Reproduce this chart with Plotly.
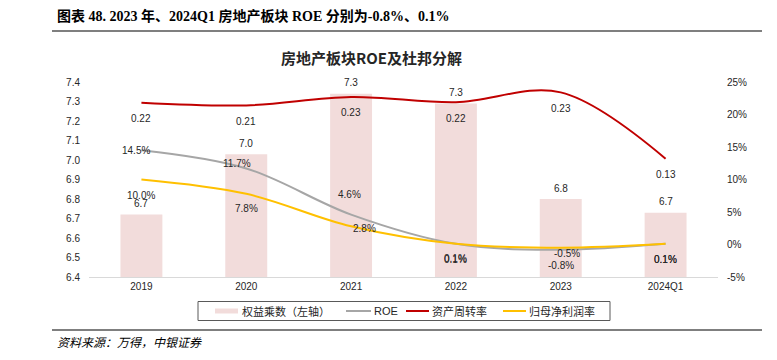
import plotly.graph_objects as go

# ---------------- data ----------------
categories = ["2019", "2020", "2021", "2022", "2023", "2024Q1"]
equity_multiplier = [6.72, 7.03, 7.34, 7.29, 6.80, 6.73]      # left axis
asset_turnover = [0.218, 0.214, 0.227, 0.219, 0.234, 0.132]    # shown on right axis (x100 %)
roe = [14.5, 11.7, 4.6, 0.1, -0.8, 0.1]                        # %
net_margin = [10.0, 7.8, 2.8, 0.1, -0.5, 0.1]                  # %

left_ticks = [6.4, 6.5, 6.6, 6.7, 6.8, 6.9, 7.0, 7.1, 7.2, 7.3, 7.4]
right_ticks = [-5, 0, 5, 10, 15, 20, 25]

# ---------------- style ----------------
W, H = 777, 360
L, R, T, B = 89, 59, 82, 83
PW, PH = W - L - R, H - T - B
C_BAR = "#F2DCDB"
C_ROE = "#A6A6A6"
C_TURN = "#C00000"
C_MARGIN = "#FFC000"
TXT = "#262626"
CJK = "Noto Sans CJK SC"
LBL = dict(family="Liberation Sans, " + CJK, size=10, color=TXT)

def px(x):
    return (x - L) / PW

def py(y):
    return (H - B - y) / PH

xs = list(range(len(categories)))

fig = go.Figure()
fig.add_trace(go.Bar(
    x=xs, y=equity_multiplier, name="权益乘数（左轴）",
    marker=dict(color=C_BAR, line=dict(width=0)), width=0.4,
    yaxis="y", showlegend=False, hoverinfo="skip",
))
turn_pct = [v * 100 for v in asset_turnover]
fig.add_trace(go.Scatter(
    x=xs, y=roe, name="ROE", mode="lines", yaxis="y2", hoverinfo="skip",
    line=dict(color=C_ROE, width=2, shape="spline", smoothing=1.0), showlegend=False,
))
fig.add_trace(go.Scatter(
    x=xs, y=turn_pct, name="资产周转率", mode="lines", yaxis="y2", hoverinfo="skip",
    line=dict(color=C_TURN, width=2, shape="spline", smoothing=1.0), showlegend=False,
))
fig.add_trace(go.Scatter(
    x=xs, y=net_margin, name="归母净利润率", mode="lines", yaxis="y2", hoverinfo="skip",
    line=dict(color=C_MARGIN, width=2, shape="spline", smoothing=1.0), showlegend=False,
))

# label offsets (pixels: dx right, dy up)
bar_off = [(0, 11)] * 6
turn_off = [(0, -16)] * 6
roe_off = [(-5, 0), (-9, 5), (-2, 20), (0, -15), (0, -16), (0, -16)]
margin_off = [(0, -16), (0, -15), (13, -2), (0, -16), (6, -6), (0, -16)]

annotations = []
for i, val, (dx, dy) in zip(xs, equity_multiplier, bar_off):
    annotations.append(dict(x=i, y=val, xref="x", yref="y", text=f"{val:.1f}",
                            showarrow=False, xshift=dx, yshift=dy, font=LBL))
for i, val, lab, (dx, dy) in zip(xs, turn_pct, asset_turnover, turn_off):
    annotations.append(dict(x=i, y=val, xref="x", yref="y2", text=f"{lab:.2f}",
                            showarrow=False, xshift=dx, yshift=dy, font=LBL))
for i, val, (dx, dy) in zip(xs, roe, roe_off):
    annotations.append(dict(x=i, y=val, xref="x", yref="y2", text=f"{val:.1f}%",
                            showarrow=False, xshift=dx, yshift=dy, font=LBL))
for i, val, (dx, dy) in zip(xs, net_margin, margin_off):
    annotations.append(dict(x=i, y=val, xref="x", yref="y2", text=f"{val:.1f}%",
                            showarrow=False, xshift=dx, yshift=dy, font=LBL))

# titles and source
annotations.append(dict(
    x=px(55), y=py(16), xref="paper", yref="paper", xanchor="left", yanchor="middle",
    text="<b>图表 48. 2023 年、2024Q1 房地产板块 ROE 分别为-0.8%、0.1%</b>",
    showarrow=False, font=dict(family="Liberation Serif, " + CJK, size=14, color="#000")))
annotations.append(dict(
    x=px(371), y=py(57), xref="paper", yref="paper", xanchor="center", yanchor="middle",
    text="<b>房地产板块ROE及杜邦分解</b>", showarrow=False,
    font=dict(family=CJK, size=15, color="#262626")))
annotations.append(dict(
    x=px(55), y=py(341), xref="paper", yref="paper", xanchor="left", yanchor="middle",
    text="<i>资料来源：万得，中银证券</i>", showarrow=False,
    font=dict(family=CJK, size=12, color="#000")))

shapes = [
    dict(type="line", xref="paper", yref="paper", x0=px(52), x1=px(762), y0=py(31), y1=py(31),
         line=dict(color="#000", width=1.2)),
    dict(type="line", xref="paper", yref="paper", x0=px(52), x1=px(762), y0=py(330), y1=py(330),
         line=dict(color="#000", width=1.2)),
    # legend box
    dict(type="rect", xref="paper", yref="paper", x0=px(198), x1=px(610), y0=py(301.5), y1=py(320.5),
         line=dict(color="#595959", width=1), fillcolor="rgba(0,0,0,0)"),
    dict(type="rect", xref="paper", yref="paper", x0=px(215), x1=px(238), y0=py(308.5), y1=py(313.5),
         line=dict(width=0), fillcolor=C_BAR),
]
legend_lines = [(346, 371, C_ROE), (406, 429, C_TURN), (503, 526, C_MARGIN)]
for x0, x1, c in legend_lines:
    shapes.append(dict(type="line", xref="paper", yref="paper", x0=px(x0), x1=px(x1),
                       y0=py(311), y1=py(311), line=dict(color=c, width=2)))
legend_texts = [(240, "权益乘数（左轴）"), (372, "ROE"), (430, "资产周转率"), (527, "归母净利润率")]
for x0, t in legend_texts:
    annotations.append(dict(x=px(x0), y=py(311), xref="paper", yref="paper", xanchor="left",
                            yanchor="middle", text=t, showarrow=False,
                            font=dict(family="Liberation Sans, " + CJK, size=11, color=TXT)))

fig.update_layout(
    width=W, height=H, margin=dict(l=L, r=R, t=T, b=B, pad=0),
    paper_bgcolor="white", plot_bgcolor="white",
    font=dict(family="Liberation Sans, " + CJK, size=10, color=TXT),
    xaxis=dict(range=[-0.5, len(categories) - 0.5], tickvals=xs, ticktext=categories,
               showline=True, linecolor="#D9D9D9", linewidth=1, zeroline=False,
               showgrid=False, ticks="", tickfont=dict(size=10, color=TXT)),
    yaxis=dict(range=[6.4, 7.4], tickvals=left_ticks, ticktext=[f"{v:.1f}" for v in left_ticks],
               showgrid=False, zeroline=False, showline=False, ticks="", ticklabelstandoff=8,
               tickfont=dict(size=10, color=TXT)),
    yaxis2=dict(range=[-5, 25], tickvals=right_ticks, ticktext=[f"{v}%" for v in right_ticks],
                overlaying="y", side="right", showgrid=False, zeroline=False, showline=False,
                ticks="", ticklabelstandoff=8, tickfont=dict(size=10, color=TXT)),
    annotations=annotations, shapes=shapes, showlegend=False,
)

fig.write_html("out.html", config={"displayModeBar": False},
               post_script="document.body.style.margin='0';document.body.style.overflow='hidden';")
